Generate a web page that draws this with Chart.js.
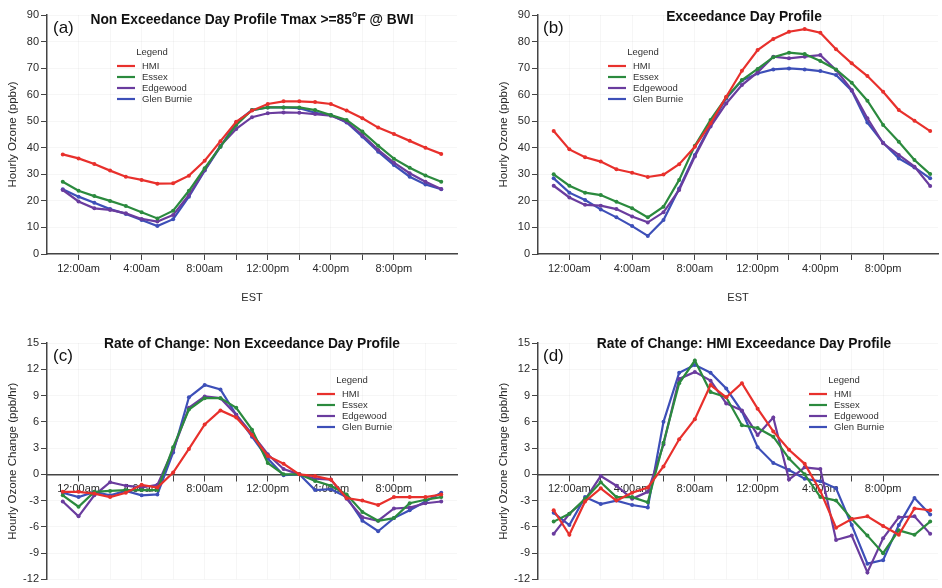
<!DOCTYPE html>
<html>
<head>
<meta charset="utf-8">
<script src="https://cdn.jsdelivr.net/npm/chart.js@4.4.1/dist/chart.umd.min.js"></script>
<style>
  html, body { margin: 0; padding: 0; background: #fff; }
  #wrap { position: relative; width: 942px; height: 588px; overflow: hidden; background: #fff; }
  canvas { position: absolute; }
</style>
</head>
<body>
<div id="wrap">
  <canvas id="chartA" width="471" height="310" style="left:0;top:0"></canvas>
  <canvas id="chartB" width="451" height="310" style="left:491px;top:0"></canvas>
  <canvas id="chartC" width="471" height="260" style="left:0;top:328px"></canvas>
  <canvas id="chartD" width="451" height="260" style="left:491px;top:328px"></canvas>
</div>
<script>
// hour of day (EST), first point is 11pm of the previous day
const hours = [-1, 0, 1, 2, 3, 4, 5, 6, 7, 8, 9, 10, 11, 12, 13, 14, 15, 16, 17, 18, 19, 20, 21, 22, 23];
const tickHours = [0, 4, 8, 12, 16, 20];
const tickLabels = ["12:00am", "4:00am", "8:00am", "12:00pm", "4:00pm", "8:00pm"];
const sites = ["HMI", "Essex", "Edgewood", "Glen Burnie"];

// (a) non exceedance day profile, ppbv
const nonExcHMI = [37.5, 36.0, 33.9, 31.4, 29.1, 27.9, 26.5, 26.6, 29.5, 35.1, 42.5, 49.8, 54.0, 56.5, 57.5, 57.5, 57.2, 56.5, 54.0, 51.1, 47.6, 45.2, 42.6, 40.0, 37.7];
const nonExcEssex = [27.2, 23.8, 21.8, 20.0, 18.1, 15.7, 13.4, 16.3, 23.8, 32.3, 40.4, 48.6, 54.2, 55.2, 55.2, 55.2, 54.2, 52.3, 50.5, 46.1, 40.8, 35.9, 32.5, 29.6, 27.2];
const nonExcEdgewood = [24.1, 19.8, 17.2, 16.6, 15.3, 13.2, 12.2, 14.7, 22.2, 31.6, 40.8, 47.1, 51.5, 53.0, 53.3, 53.2, 52.7, 52.1, 49.8, 44.8, 39.2, 34.4, 30.4, 27.2, 24.5];
const nonExcGlenBurnie = [24.4, 21.6, 19.3, 16.9, 15.1, 12.8, 10.5, 13.1, 21.6, 31.4, 40.4, 49.6, 54.2, 55.2, 55.2, 54.9, 53.2, 52.3, 49.5, 44.2, 38.5, 33.5, 29.1, 26.2, 24.4];

// (b) exceedance day profile, ppbv
const excHMI = [46.3, 39.4, 36.4, 34.8, 31.9, 30.6, 29.0, 29.9, 33.8, 40.4, 49.2, 59.2, 69.0, 76.8, 81.0, 83.7, 84.7, 83.3, 77.1, 71.8, 67.0, 61.1, 54.2, 50.2, 46.3];
const excEssex = [30.0, 25.7, 23.1, 22.2, 19.7, 17.2, 13.8, 17.8, 27.9, 40.8, 50.5, 59.0, 65.5, 69.7, 74.1, 75.8, 75.3, 72.7, 69.5, 64.5, 57.7, 48.6, 42.3, 35.4, 30.1];
const excEdgewood = [25.7, 21.3, 18.5, 18.2, 16.9, 14.1, 11.9, 15.7, 24.1, 36.7, 48.0, 56.7, 63.6, 68.4, 74.3, 73.7, 74.3, 74.9, 69.3, 61.8, 51.1, 41.7, 37.3, 32.9, 25.6];
const excGlenBurnie = [28.5, 23.1, 20.3, 16.8, 13.8, 10.5, 6.8, 12.8, 24.7, 37.3, 48.6, 58.6, 65.3, 68.0, 69.5, 69.9, 69.5, 68.9, 67.4, 61.5, 49.5, 41.9, 36.0, 32.6, 28.5];

// (c) rate of change, non exceedance day, ppb/hr
const rocNonExcHMI = [-2.0, -2.0, -2.2, -2.6, -2.1, -1.2, -1.5, 0.2, 2.9, 5.7, 7.3, 6.5, 4.5, 2.1, 1.2, 0.0, -0.2, -0.6, -2.7, -3.0, -3.5, -2.6, -2.6, -2.6, -2.3];
const rocNonExcEssex = [-2.4, -3.7, -2.0, -1.9, -1.8, -1.8, -1.8, 3.1, 7.4, 8.7, 8.7, 7.6, 5.1, 1.3, 0.0, 0.0, -0.75, -1.3, -2.3, -4.3, -5.3, -5.0, -3.3, -2.9, -2.6];
const rocNonExcEdgewood = [-3.1, -4.8, -2.4, -0.9, -1.3, -1.5, -1.2, 2.8, 7.6, 8.9, 8.7, 6.8, 4.6, 2.3, 0.6, 0.0, -0.5, -0.6, -2.8, -4.9, -5.3, -3.9, -3.8, -3.3, -3.1];
const rocNonExcGlenBurnie = [-2.1, -2.6, -2.0, -2.4, -1.9, -2.4, -2.3, 2.5, 8.8, 10.2, 9.7, 6.8, 4.3, 1.8, -0.1, 0.0, -1.8, -1.7, -2.6, -5.3, -6.5, -5.0, -4.1, -3.1, -2.1];

// (d) rate of change, HMI exceedance day, ppb/hr
const rocExcHMI = [-4.1, -6.9, -3.1, -1.6, -3.0, -2.1, -1.5, 0.9, 4.0, 6.3, 10.2, 8.8, 10.4, 7.5, 4.9, 2.8, 1.2, -1.9, -6.1, -5.1, -4.8, -5.9, -6.9, -3.9, -4.1];
const rocExcEssex = [-5.4, -4.5, -2.8, -0.9, -2.6, -2.6, -3.2, 3.6, 10.4, 13.0, 9.4, 8.8, 5.6, 5.3, 4.3, 1.8, 0.0, -2.6, -3.0, -5.1, -7.0, -9.0, -6.4, -6.9, -5.4];
const rocExcEdgewood = [-6.8, -4.5, -2.9, -0.2, -1.3, -2.8, -2.0, 3.4, 10.9, 11.7, 10.7, 8.1, 7.3, 4.5, 6.5, -0.6, 0.8, 0.6, -7.5, -7.0, -11.2, -7.3, -4.9, -4.8, -6.8];
const rocExcGlenBurnie = [-4.4, -5.8, -2.6, -3.4, -3.0, -3.5, -3.8, 6.0, 11.6, 12.5, 11.6, 9.8, 7.2, 3.1, 1.3, 0.5, -0.5, -0.8, -1.6, -5.8, -10.2, -9.8, -5.8, -2.7, -4.6];

const colors = ["#e8302c", "#2b8a3e", "#6a3c9e", "#3d4fb8"];
const fontFamily = "'Liberation Sans', Arial, sans-serif";
const textColor = "#2a2a2a";
const axisColor = "#444";

function makeDatasets(seriesList) {
  return seriesList.map((vals, i) => ({
    label: sites[i],
    data: hours.map((h, j) => ({ x: h, y: vals[j] })),
    borderColor: colors[i],
    backgroundColor: colors[i],
    borderWidth: 2.2,
    pointRadius: 2,
    pointBorderWidth: 0,
    pointBackgroundColor: colors[i],
    tension: 0
  }));
}

// letter, title and the in-plot legend
const panelText = {
  id: "panelText",
  afterDraw(chart, args, o) {
    const ctx = chart.ctx;
    ctx.save();
    ctx.fillStyle = "#111";
    ctx.textBaseline = "middle";
    ctx.textAlign = "left";
    ctx.font = "17px " + fontFamily;
    ctx.fillText(o.letter, o.letterX, 28);

    // title, parts may be superscript
    const mainFont = "bold 13.8px " + fontFamily;
    const supFont = "bold 8.5px " + fontFamily;
    let total = 0;
    o.title.forEach(p => {
      ctx.font = p.sup ? supFont : mainFont;
      total += ctx.measureText(p.text).width;
    });
    let x = o.titleX - total / 2;
    o.title.forEach(p => {
      ctx.font = p.sup ? supFont : mainFont;
      ctx.fillText(p.text, x, p.sup ? o.titleY - 5 : o.titleY);
      x += ctx.measureText(p.text).width;
    });

    // legend
    ctx.font = "9.5px " + fontFamily;
    ctx.textAlign = "center";
    ctx.fillStyle = "#333";
    ctx.fillText("Legend", o.legendX + 35, 52);
    ctx.textAlign = "left";
    chart.data.datasets.forEach((ds, i) => {
      const y = 66 + i * 11;
      ctx.strokeStyle = ds.borderColor;
      ctx.lineWidth = 2.2;
      ctx.beginPath();
      ctx.moveTo(o.legendX, y);
      ctx.lineTo(o.legendX + 18, y);
      ctx.stroke();
      ctx.fillStyle = "#333";
      ctx.fillText(ds.label, o.legendX + 25, y + 0.5);
    });
    ctx.restore();
  }
};

function makePanel(id, cfg) {
  const tickFont = { family: fontFamily, size: 11 };
  const xScale = {
    type: "linear",
    min: -2,
    max: cfg.xMax,
    ticks: {
      stepSize: 2,
      autoSkip: false,
      maxRotation: 0,
      color: textColor,
      font: tickFont,
      padding: 2,
      callback: v => {
        const k = tickHours.indexOf(v);
        return k >= 0 ? tickLabels[k] : "";
      }
    },
    afterBuildTicks: s => { s.ticks = s.ticks.filter(t => t.value >= 0 && t.value <= 22); },
    grid: { color: "rgba(0,0,0,0.035)", tickColor: axisColor, tickLength: 6 },
    border: { color: axisColor, width: 1.5 }
  };
  if (cfg.zeroAxis) {
    xScale.position = { y: 0 };
  } else {
    xScale.position = "bottom";
    xScale.title = { display: true, text: "EST", color: textColor, font: tickFont, padding: { top: 4, bottom: 5 } };
    xScale.afterFit = s => { s.height = 56; };
  }
  new Chart(document.getElementById(id), {
    type: "line",
    plugins: [panelText],
    data: { datasets: makeDatasets(cfg.series) },
    options: {
      responsive: false,
      animation: false,
      layout: { padding: { top: 15, right: cfg.padRight, bottom: cfg.padBottom, left: 0 } },
      plugins: {
        legend: { display: false },
        tooltip: { enabled: false },
        panelText: cfg.text
      },
      scales: {
        x: xScale,
        y: {
          min: cfg.yMin,
          max: cfg.yMax,
          ticks: { stepSize: cfg.yStep, color: textColor, font: tickFont, padding: 2 },
          grid: { color: "rgba(0,0,0,0.035)", tickColor: axisColor, tickLength: 6 },
          border: { color: axisColor, width: 1.5 },
          title: { display: true, text: cfg.yTitle, color: textColor, font: { family: fontFamily, size: 11.5 }, padding: { top: 6, bottom: 0 } },
          afterFit: s => { s.width = 47; }
        }
      }
    }
  });
}

makePanel("chartA", {
  series: [nonExcHMI, nonExcEssex, nonExcEdgewood, nonExcGlenBurnie],
  yMin: 0, yMax: 90, yStep: 10, yTitle: "Hourly Ozone (ppbv)",
  xMax: 24, padRight: 14, padBottom: 0,
  text: {
    letter: "(a)", letterX: 53,
    title: [{ text: "Non Exceedance Day Profile Tmax >=85" }, { text: "o", sup: true }, { text: "F @ BWI" }],
    titleX: 252, titleY: 20, legendX: 117
  }
});

makePanel("chartB", {
  series: [excHMI, excEssex, excEdgewood, excGlenBurnie],
  yMin: 0, yMax: 90, yStep: 10, yTitle: "Hourly Ozone (ppbv)",
  xMax: 23.5, padRight: 0, padBottom: 0,
  text: {
    letter: "(b)", letterX: 52,
    title: [{ text: "Exceedance Day Profile" }],
    titleX: 253, titleY: 17, legendX: 117
  }
});

makePanel("chartC", {
  series: [rocNonExcHMI, rocNonExcEssex, rocNonExcEdgewood, rocNonExcGlenBurnie],
  yMin: -12, yMax: 15, yStep: 3, yTitle: "Hourly Ozone Change (ppb/hr)",
  xMax: 24, padRight: 14, padBottom: 6, zeroAxis: true,
  text: {
    letter: "(c)", letterX: 53,
    title: [{ text: "Rate of Change: Non Exceedance Day Profile" }],
    titleX: 252, titleY: 16, legendX: 317
  }
});

makePanel("chartD", {
  series: [rocExcHMI, rocExcEssex, rocExcEdgewood, rocExcGlenBurnie],
  yMin: -12, yMax: 15, yStep: 3, yTitle: "Hourly Ozone Change (ppb/hr)",
  xMax: 23.5, padRight: 0, padBottom: 6, zeroAxis: true,
  text: {
    letter: "(d)", letterX: 52,
    title: [{ text: "Rate of Change: HMI Exceedance Day Profile" }],
    titleX: 253, titleY: 16, legendX: 318
  }
});
</script>
</body>
</html>
